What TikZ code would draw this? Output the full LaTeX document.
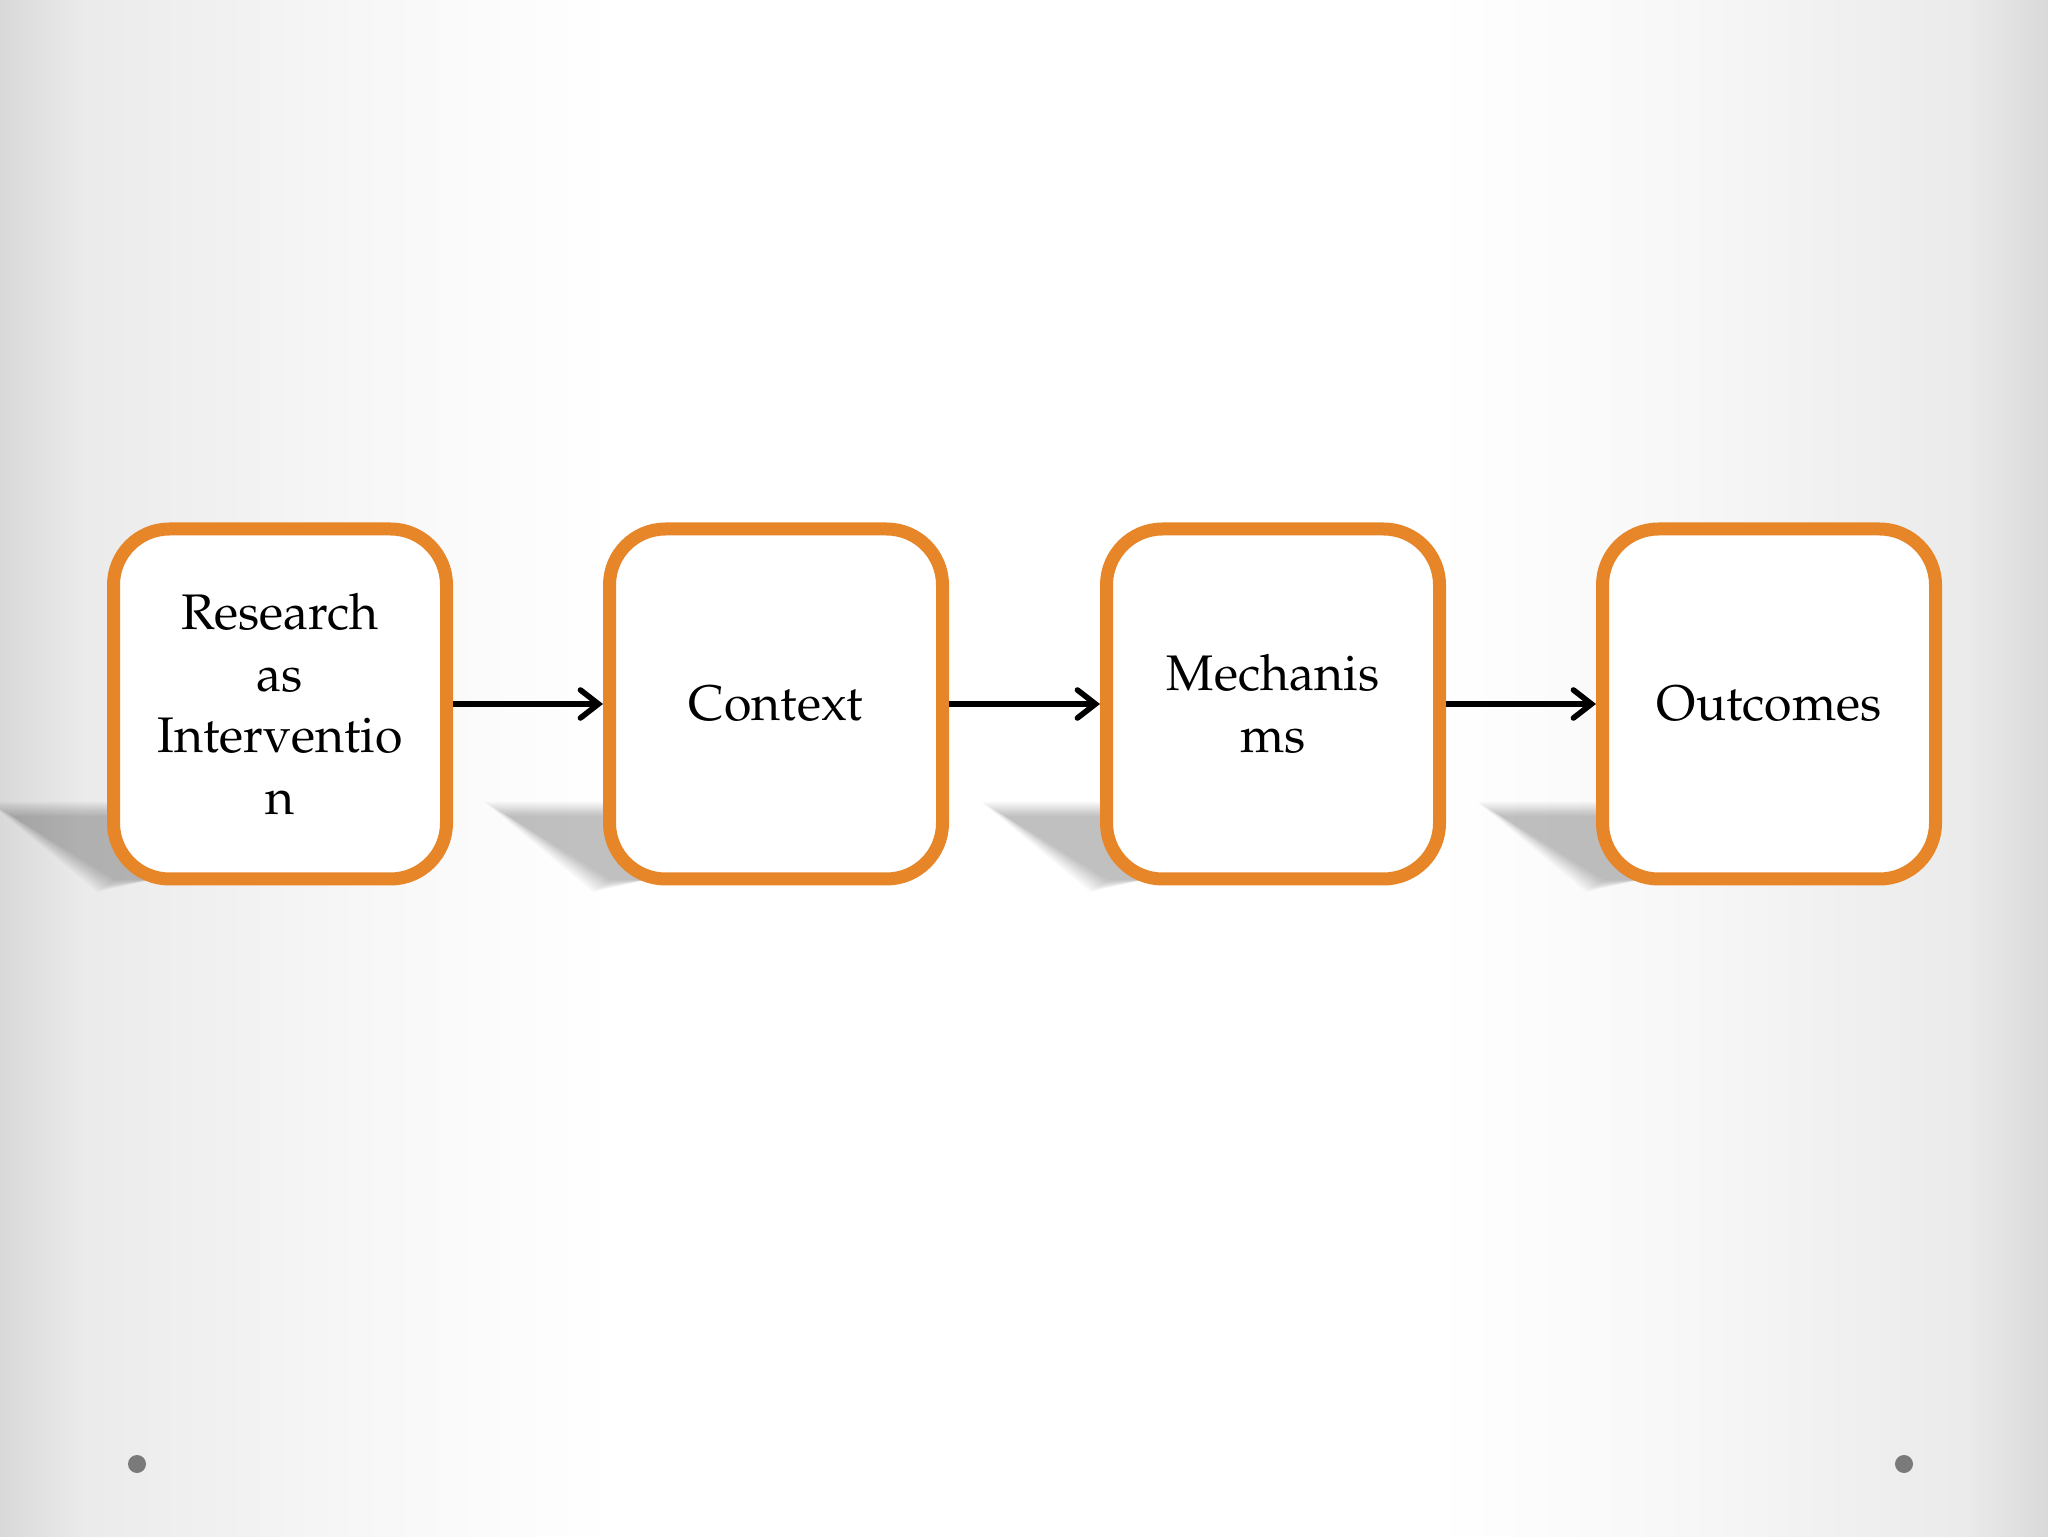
\documentclass[tikz,border=0pt]{standalone}
\usepackage[T1]{fontenc}
\usepackage{mathpazo}
\usetikzlibrary{arrows.meta}
\definecolor{boxorange}{RGB}{230,134,40}
\definecolor{dotgray}{RGB}{122,122,122}
\pgfdeclarehorizontalshading{sidefade}{100bp}{color(0bp)=(black!15); color(25bp)=(black!15);
  color(27bp)=(black!8); color(34bp)=(black!3); color(40bp)=(white); color(60bp)=(white);
  color(66bp)=(black!3); color(73bp)=(black!8); color(75bp)=(black!15); color(100bp)=(black!15)}
\begin{document}
\begin{tikzpicture}[x=0.5pt,y=0.5pt,>={Straight Barb[length=9pt,width=14pt,line cap=round]},line join=round,
  stepbox/.style={draw=boxorange,line width=6.5pt,rounded corners=28pt,fill=white,
    minimum width=166.5pt,minimum height=175pt,inner sep=0pt,align=center,
    font=\fontsize{25}{30.75}\selectfont},
  flow/.style={black,line width=2.8pt,->},
  ]
%%
\useasboundingbox (0,0) rectangle (2048,1536);
\shade [shading=sidefade] (0,0) rectangle (2048,1536);
% soft shadows on the floor
\foreach \x in {280,776,1273,1769} {
  \foreach \s in {0,...,12}
    \fill [black,opacity=0.018] ({\x-268-2*\s},{720+1.2*\s}) -- ({\x},{720+1.2*\s})
      -- ({\x},{700}) -- ({\x-130},{656}) -- ({\x-165-1.5*\s},{656-\s}) -- cycle;
}
  \node (node_0) at (280,832) [stepbox] {Research\\as\\Interventio\\n};
  \node (node_1) at (776,832) [stepbox] {Context};
  \node (node_2) at (1273,832) [stepbox] {Mechanis\\ms};
  \node (node_3) at (1769,832) [stepbox] {Outcomes};
  \draw [flow] (node_0) -- (node_1);
  \draw [flow] (node_1) -- (node_2);
  \draw [flow] (node_2) -- (node_3);
\fill [dotgray] (137,72) circle (9);
\fill [dotgray] (1904,72) circle (9);
%
\end{tikzpicture}
\end{document}
